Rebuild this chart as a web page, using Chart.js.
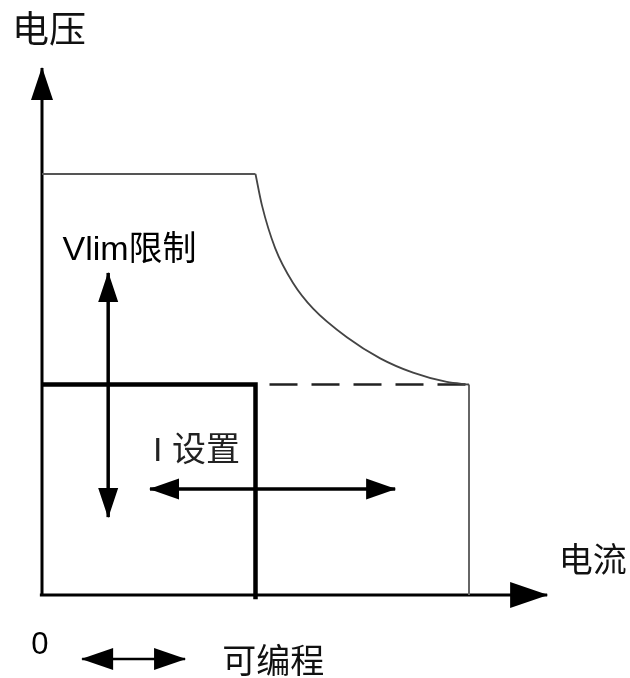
<!DOCTYPE html>
<html><head><meta charset="utf-8">
<script src="https://cdn.jsdelivr.net/npm/chart.js@4.4.0/dist/chart.umd.min.js"></script>
<style>html,body{margin:0;padding:0;background:#fff;overflow:hidden}</style>
</head><body>
<canvas id="c" width="630" height="678"></canvas>
<script>
// ---- Data (current I on x, voltage V on y, arbitrary units) ----
const iSet = 5;          // programmed current limit
const vLim = 5;          // voltage limit
const iMax = 10;         // max current
const vMax = 10;         // max voltage
const curveI = [5, 5.15, 5.46, 5.88, 6.35, 7.14, 7.92, 8.69, 9.48, 10];
const curveV = [10, 9.26, 8.24, 7.41, 6.80, 6.12, 5.62, 5.28, 5.06, 5];
const axisXEnd = 11.83;
const axisYEnd = 12.52;
const vArrowI = [1.55, 1.55], vArrowV = [1.85, 7.65];
const iArrowI = [2.53, 8.27], iArrowV = [2.52, 2.52];
const progArrowI = [0.94, 3.35], progArrowV = [-1.52, -1.52];
const labelTexts = ['电压', '电流', '0', '可编程', 'Vlim限制', 'I 设置'];
const labelI = [-0.70, 12.10, -0.25, 4.22, 0.48, 2.60];
const labelV = [13.35, 0.78, -1.19, -1.62, 8.19, 3.40];

const pts = (xs, ys) => xs.map((x, k) => ({x: x, y: ys[k]}));

const FONT = '"Liberation Sans", Arial, "Noto Sans CJK SC", sans-serif';
const labelStyle = [
  {size: 37, color: '#111'},
  {size: 34, color: '#111'},
  {size: 31, color: '#000'},
  {size: 34, color: '#111'},
  {size: 34, color: '#000'},
  {size: 34, color: '#222'}
];

const arrowPlugin = {
  id: 'arrows',
  afterDatasetsDraw(chart) {
    const ctx = chart.ctx;
    chart.data.datasets.forEach((ds, di) => {
      if (!ds.heads) return;
      const d = chart.getDatasetMeta(di).data;
      const a = d[0], b = d[d.length - 1];
      const draw = (tip, from) => {
        const dx = tip.x - from.x, dy = tip.y - from.y;
        const len = Math.hypot(dx, dy), ux = dx / len, uy = dy / len;
        const L = ds.headLength, W = ds.headWidth;
        const bx = tip.x - ux * L, by = tip.y - uy * L;
        ctx.save();
        ctx.beginPath();
        ctx.moveTo(tip.x + ux * 1, tip.y + uy * 1);
        ctx.lineTo(bx - uy * W, by + ux * W);
        ctx.lineTo(bx + uy * W, by - ux * W);
        ctx.closePath();
        ctx.fillStyle = ds.borderColor;
        ctx.fill();
        ctx.restore();
      };
      if (ds.heads === 'end' || ds.heads === 'both') draw(b, a);
      if (ds.heads === 'both') draw(a, b);
    });
  },
  afterDraw(chart) {
    const ctx = chart.ctx, xs = chart.scales.x, ys = chart.scales.y;
    ctx.save();
    ctx.textAlign = 'left';
    ctx.textBaseline = 'middle';
    labelTexts.forEach((t, k) => {
      ctx.font = labelStyle[k].size + 'px ' + FONT;
      ctx.fillStyle = labelStyle[k].color;
      ctx.fillText(t, xs.getPixelForValue(labelI[k]), ys.getPixelForValue(labelV[k]));
    });
    ctx.restore();
  }
};

const line = (data, color, width, extra) => Object.assign({
  data: data, showLine: true, borderColor: color, backgroundColor: color,
  borderWidth: width, pointRadius: 0, pointHoverRadius: 0, fill: false,
  borderCapStyle: 'butt', borderJoinStyle: 'miter', tension: 0
}, extra || {});

new Chart(document.getElementById('c'), {
  type: 'scatter',
  data: {
    datasets: [
      // thin outer envelope
      line(pts([0, iSet], [vMax, vMax]), '#555', 1.8),
      line(pts(curveI, curveV), '#444', 1.8, {cubicInterpolationMode: 'monotone'}),
      line(pts([iMax, iMax], [vLim, 0]), '#666', 2),
      // dashed limit line
      line(pts([iSet, iMax], [vLim, vLim]), '#222', 2.4, {borderDash: [28, 14], borderDashOffset: 28}),
      // axes
      line(pts([-0.05, axisXEnd], [0, 0]), '#000', 3, {heads: 'end', headLength: 37, headWidth: 13}),
      line(pts([0, 0], [0, axisYEnd]), '#000', 3, {heads: 'end', headLength: 32, headWidth: 11}),
      // thick operating rectangle
      line(pts([0, iSet, iSet], [vLim, vLim, -0.1]), '#000', 4.5),
      // adjustment arrows
      line(pts(vArrowI, vArrowV), '#000', 3.5, {heads: 'both', headLength: 29, headWidth: 10}),
      line(pts(iArrowI, iArrowV), '#000', 3.5, {heads: 'both', headLength: 29, headWidth: 10.5}),
      line(pts(progArrowI, progArrowV), '#000', 2.5, {heads: 'both', headLength: 31, headWidth: 11})
    ]
  },
  options: {
    responsive: false,
    animation: false,
    events: [],
    layout: {padding: 0, autoPadding: false},
    plugins: {legend: {display: false}, tooltip: {enabled: false}},
    scales: {
      x: {type: 'linear', display: false, min: -42 / 42.7, max: (630 - 42) / 42.7},
      y: {type: 'linear', display: false, min: -(678 - 595) / 42.1, max: 595 / 42.1}
    }
  },
  plugins: [arrowPlugin]
});
</script>
</body></html>
